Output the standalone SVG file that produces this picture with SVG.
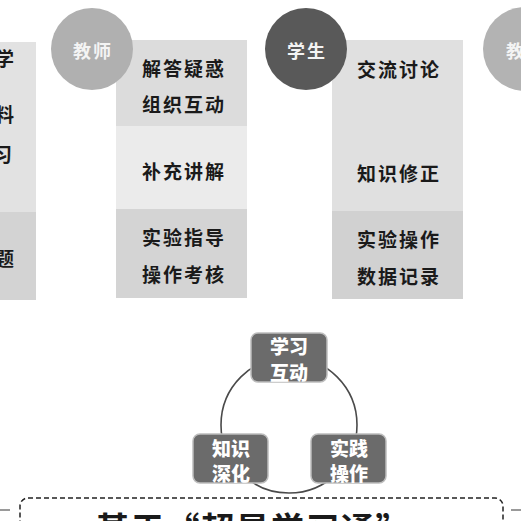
<svg xmlns="http://www.w3.org/2000/svg" width="521" height="521" viewBox="0 0 521 521">
<style>
.pt{font-family:"Noto Sans CJK SC","Liberation Serif",serif;font-weight:700;font-size:19px;fill:#1a1a1a;letter-spacing:2px;text-anchor:middle;dominant-baseline:central}
.ct{font-family:"Noto Sans CJK SC","Liberation Serif",serif;font-weight:700;font-size:18px;fill:#f4f4f4;letter-spacing:2px;text-anchor:middle;dominant-baseline:central}
.bt{font-family:"Noto Sans CJK SC",sans-serif;font-weight:900;font-size:19px;fill:#ffffff;text-anchor:middle;dominant-baseline:central}
.box{fill:#6b6b6b;stroke:#bdbdbd;stroke-width:1.5}
</style>
<rect width="521" height="521" fill="#ffffff"/>

<g id="left-column">
<rect x="-100" y="42" width="136" height="170" fill="#e2e2e2"/>
<rect x="-100" y="212" width="136" height="88" fill="#d3d3d3"/>
<text class="pt" x="16" y="57" style="text-anchor:end">学</text>
<text class="pt" x="16" y="113" style="text-anchor:end">料</text>
<text class="pt" x="14" y="153" style="text-anchor:end">习</text>
<text class="pt" x="16" y="257" style="text-anchor:end">题</text>
</g>

<g id="teacher-panel">
<rect x="116" y="40" width="131" height="86" fill="#dcdcdc"/>
<rect x="116" y="126" width="131" height="83" fill="#ebebeb"/>
<rect x="116" y="209" width="131" height="89" fill="#d4d4d4"/>
<text class="pt" x="184" y="67">解答疑惑</text>
<text class="pt" x="184" y="103">组织互动</text>
<text class="pt" x="184" y="170">补充讲解</text>
<text class="pt" x="184" y="236">实验指导</text>
<text class="pt" x="184" y="273">操作考核</text>
</g>

<g id="teacher-circle">
<circle cx="92" cy="49" r="41" fill="#b0b0b0"/>
<text class="ct" x="93" y="50">教师</text>
</g>

<g id="student-panel">
<rect x="332" y="40" width="131" height="171" fill="#e0e0e0"/>
<rect x="332" y="211" width="131" height="88" fill="#d1d1d1"/>
<text class="pt" x="399" y="68">交流讨论</text>
<text class="pt" x="399" y="172">知识修正</text>
<text class="pt" x="399" y="238">实验操作</text>
<text class="pt" x="399" y="275">数据记录</text>
</g>

<g id="student-circle">
<circle cx="306" cy="49" r="41" fill="#595959"/>
<text class="ct" x="307" y="50">学生</text>
</g>

<g id="teacher-circle-2">
<circle cx="525" cy="49" r="42" fill="#b3b3b3"/>
<text class="ct" x="526" y="50">教师</text>
</g>

<g id="connectors">
<circle cx="289" cy="425" r="68" fill="none" stroke="#4a4a4a" stroke-width="1.6"/>
<line x1="0" y1="510" x2="10" y2="510" stroke="#9a9a9a" stroke-width="2"/>
<line x1="511" y1="510" x2="521" y2="510" stroke="#9a9a9a" stroke-width="2"/>
</g>

<g id="node-study">
<rect class="box" x="251" y="333" width="76" height="49" rx="7"/>
<text class="bt" x="289" y="345">学习</text>
<text class="bt" x="289" y="371">互动</text>
</g>

<g id="node-knowledge">
<rect class="box" x="193" y="434" width="75" height="49" rx="7"/>
<text class="bt" x="231" y="447">知识</text>
<text class="bt" x="231" y="472">深化</text>
</g>

<g id="node-practice">
<rect class="box" x="311" y="434" width="75" height="49" rx="7"/>
<text class="bt" x="349" y="447">实践</text>
<text class="bt" x="349" y="472">操作</text>
</g>

<g id="bottom-title">
<rect x="20" y="498" width="483" height="60" rx="8" fill="none" stroke="#222" stroke-width="1.5" stroke-dasharray="5 3"/>
<text x="253" y="542" font-family="Noto Sans CJK SC, sans-serif" font-weight="700" font-size="34" fill="#1a1a1a" text-anchor="middle" letter-spacing="1">基于“超星学习通”</text>
</g>
</svg>
